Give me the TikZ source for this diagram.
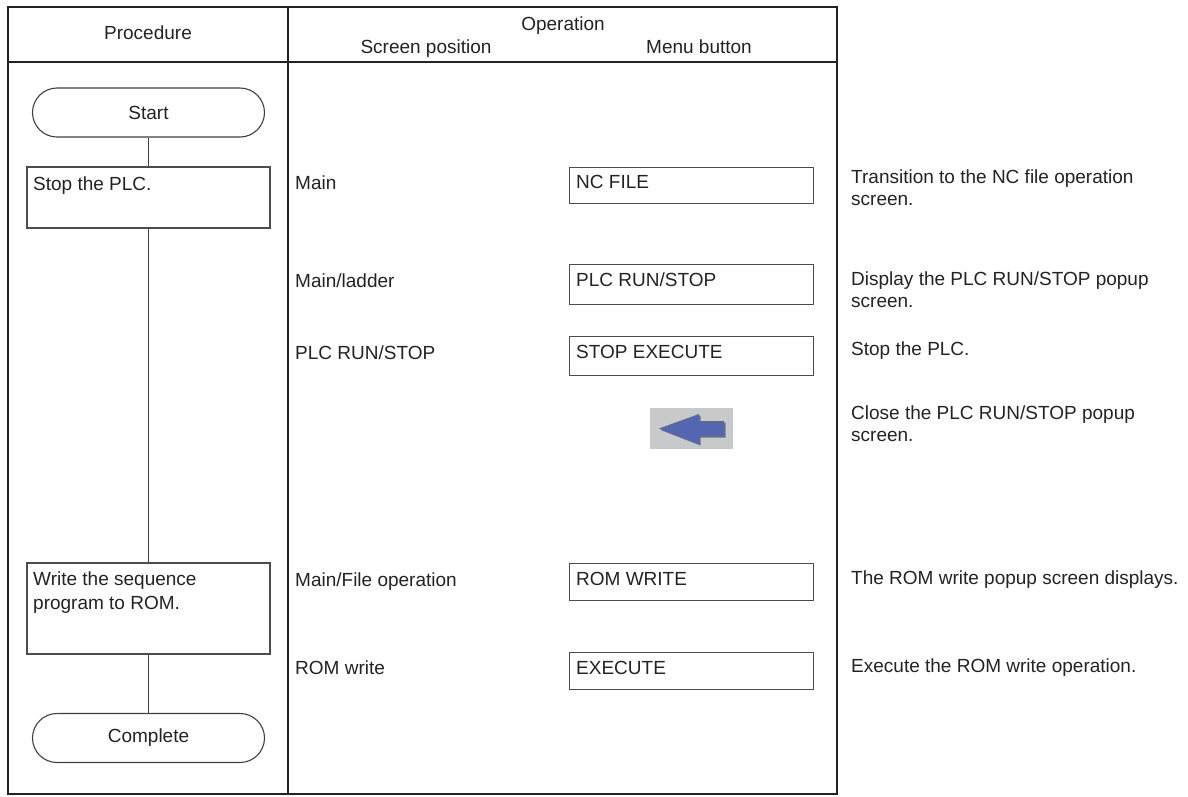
\documentclass[tikz,border=0pt]{standalone}
\usepackage{fontspec}
\setmainfont{Liberation Sans}
\definecolor{arrowblue}{RGB}{85,102,176}
\definecolor{arrowshadow}{RGB}{110,112,130}
\definecolor{iconbg}{RGB}{200,201,203}
\definecolor{ink}{RGB}{35,35,35}
\begin{document}
\begin{tikzpicture}[x=1pt,y=-1pt,
  txt/.style={inner sep=0pt, text=ink, font=\fontsize{19}{22}\selectfont},
  txtl/.style={txt, align=left, font=\fontsize{19}{22}\selectfont},
  frame/.style={draw=ink, line width=2.8pt},
  rule/.style={draw=ink, line width=1.2pt},
  box/.style={draw=black!70, line width=1.1pt, inner sep=0pt},
  term/.style={draw=black!75, line width=1.1pt, minimum width=232pt, minimum height=49pt, rounded corners=24.5pt, inner sep=0pt, text=ink, font=\fontsize{19}{22}\selectfont},
  conn/.style={draw=black!75, line width=1.1pt},
  btn/.style={box, minimum width=244pt, anchor=north west}
]
\useasboundingbox (0,0) rectangle (1188,796);
\fill[white] (0,0) rectangle (1188,796);

% table frame
\draw[frame] (8,7) rectangle (837,794);
\draw[frame] (288,7) -- (288,794);
\draw[rule] (8,62) -- (837,62);

% header
\node[txt, anchor=base] (hproc) at (148,39) {Procedure};
\node[txt, anchor=base] (hop) at (563,30) {Operation};
\node[txt, anchor=base] (hscr) at (426,53) {Screen position};
\node[txt, anchor=base] (hmenu) at (699,53) {Menu button};

% procedure column
\node[term] (start) at (148.5,112.5) {Start};
\node[box, minimum width=243pt, minimum height=61pt] (stop) at (148.5,197.5) {};
\node[txt, anchor=base west] (stopt) at (33,190) {Stop the PLC.};
\node[box, minimum width=243pt, minimum height=91pt] (write) at (148.5,608.5) {};
\node[txt, align=left, anchor=north west, font=\fontsize{19}{24}\selectfont] (writet) at (33,572) {Write the sequence\\program to ROM.};
\node[term] (complete) at (148.5,738) {Complete};

\draw[conn] (start.south) -- (stop.north);
\draw[conn] (stop.south) -- (write.north);
\draw[conn] (write.south) -- (complete.north);

% screen positions
\node[txt, anchor=base west] (s1) at (295,189) {Main};
\node[txt, anchor=base west] (s2) at (295,287) {Main/ladder};
\node[txt, anchor=base west] (s3) at (295,359) {PLC RUN/STOP};
\node[txt, anchor=base west] (s5) at (295,586) {Main/File operation};
\node[txt, anchor=base west] (s6) at (295,674) {ROM write};

% menu buttons
\node[btn, minimum height=36pt] (b1) at (569,167) {};
\node[txt, anchor=base west] (b1t) at (576,188) {NC FILE};
\node[btn, minimum height=40pt] (b2) at (569,264) {};
\node[txt, anchor=base west] (b2t) at (576,286) {PLC RUN/STOP};
\node[btn, minimum height=39pt] (b3) at (569,336) {};
\node[txt, anchor=base west] (b3t) at (576,358) {STOP EXECUTE};
\node[btn, minimum height=37pt] (b5) at (569,563) {};
\node[txt, anchor=base west] (b5t) at (576,585) {ROM WRITE};
\node[btn, minimum height=37pt] (b6) at (569,652) {};
\node[txt, anchor=base west] (b6t) at (576,674) {EXECUTE};

% back key icon
\node[fill=iconbg, minimum width=83pt, minimum height=41pt, inner sep=0pt] (back) at (691.5,428.5) {};
\fill[arrowshadow] (660.5,430) -- (700.5,415.5) -- (700.5,422.5) -- (725.5,422.5) -- (725.5,437.5) -- (700.5,437.5) -- (700.5,445.5) -- cycle;
\fill[arrowblue] (659,428.5) -- (699,414) -- (699,421) -- (724,421) -- (724,436) -- (699,436) -- (699,444) -- cycle;

% descriptions
\node[txtl, anchor=north west] (r1) at (851,170) {Transition to the NC file operation\\screen.};
\node[txtl, anchor=north west] (r2) at (851,272) {Display the PLC RUN/STOP popup\\screen.};
\node[txt, anchor=base west] (r3) at (851,355) {Stop the PLC.};
\node[txtl, anchor=north west] (r4) at (851,406) {Close the PLC RUN/STOP popup\\screen.};
\node[txt, anchor=base west] (r5) at (851,584) {The ROM write popup screen displays.};
\node[txt, anchor=base west] (r6) at (851,672) {Execute the ROM write operation.};
\end{tikzpicture}
\end{document}
